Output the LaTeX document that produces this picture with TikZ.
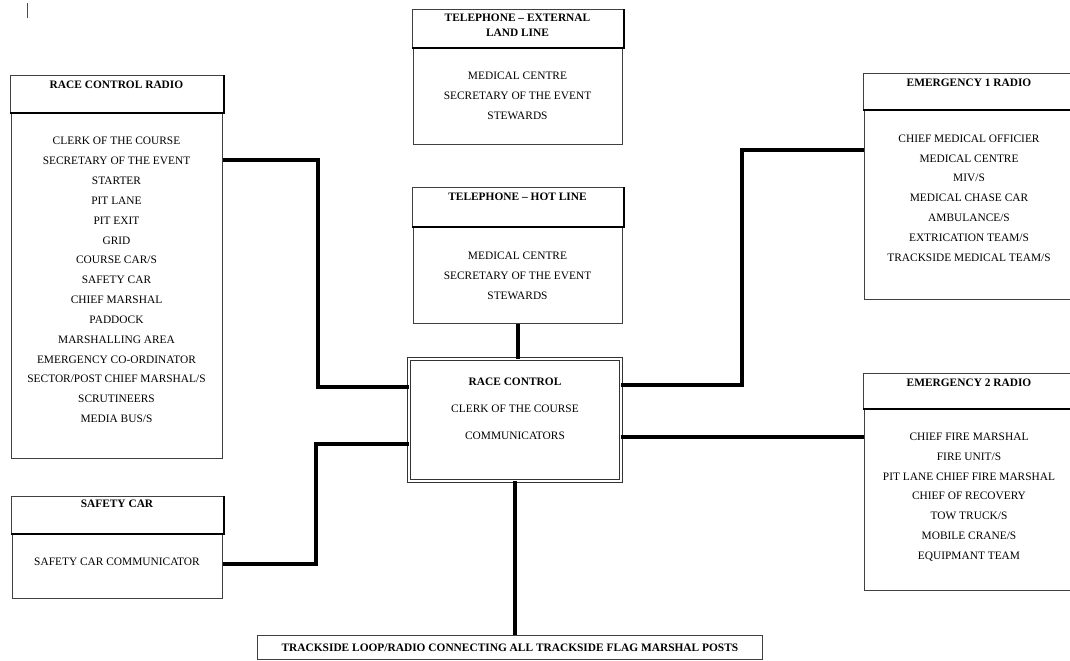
\documentclass[tikz,border=0pt]{standalone}
\usepackage{fontspec}
\setmainfont{Liberation Serif}
\usetikzlibrary{positioning,calc}

\begin{document}
\begin{tikzpicture}[x=0.025cm,y=-0.025cm,
  every node/.style={font=\fontsize{8.1}{14.1}\selectfont, align=center, inner sep=0pt},
  hdr/.style={draw=black!75, line width=0.5pt, anchor=north west},
  bodybox/.style={draw=black!75, line width=0.5pt, anchor=north west},
  ttl/.style={font=\fontsize{8.1}{10.7}\selectfont\bfseries},
  ctrl/.style={draw=black!80, line width=0.6pt, double=white, double distance=1.6pt},
  link/.style={line width=2.6pt},
  shade/.style={line width=1.4pt, black}]
  \useasboundingbox (0,0) rectangle (1070,661);
  \draw[black!70, line width=0.6pt] (27,3) -- (27,18);

  % race control radio
  \node[hdr, minimum width=5.325cm, minimum height=0.925cm] (rcrH) at (10,75) {};
  \node[bodybox, minimum width=5.275cm, minimum height=8.65cm] (rcrB) at (11,112) {};
  \node[ttl] (rcrT) at (116.5,85) {RACE CONTROL RADIO};
  \node (rcrL) at (116.5,280) {CLERK OF THE COURSE\\SECRETARY OF THE EVENT\\STARTER\\PIT LANE\\PIT EXIT\\GRID\\COURSE CAR/S\\SAFETY CAR\\CHIEF MARSHAL\\PADDOCK\\MARSHALLING AREA\\EMERGENCY CO-ORDINATOR\\SECTOR/POST CHIEF MARSHAL/S\\SCRUTINEERS\\MEDIA BUS/S};

  % safety car
  \node[hdr, minimum width=5.3cm, minimum height=0.925cm] (scH) at (11,496) {};
  \node[bodybox, minimum width=5.25cm, minimum height=1.625cm] (scB) at (12,533) {};
  \node[ttl] (scT) at (117,504) {SAFETY CAR};
  \node (scL) at (117,562) {SAFETY CAR COMMUNICATOR};

  % telephones
  \node[hdr, minimum width=5.275cm, minimum height=0.95cm] (telxH) at (412,9) {};
  \node[bodybox, minimum width=5.225cm, minimum height=2.425cm] (telxB) at (413,47) {};
  \node[ttl] (telxT) at (517.5,25) {TELEPHONE – EXTERNAL\\LAND LINE};
  \node (telxL) at (517.5,96) {MEDICAL CENTRE\\SECRETARY OF THE EVENT\\STEWARDS};

  \node[hdr, minimum width=5.275cm, minimum height=0.975cm] (hlH) at (412,187) {};
  \node[bodybox, minimum width=5.225cm, minimum height=2.425cm] (hlB) at (413,226) {};
  \node[ttl] (hlT) at (517.5,197) {TELEPHONE – HOT LINE};
  \node (hlL) at (517.5,276) {MEDICAL CENTRE\\SECRETARY OF THE EVENT\\STEWARDS};

  % race control
  \node[ctrl, minimum width=5.29cm, minimum height=3.04cm] (rc) at (515,420) {};
  \node (rcL) at (515,409) {\textbf{RACE CONTROL}\\[5pt]CLERK OF THE COURSE\\[5pt]COMMUNICATORS};

  % emergency radios
  \node[hdr, minimum width=5.3cm, minimum height=0.9cm] (e1H) at (863,73) {};
  \node[bodybox, minimum width=5.25cm, minimum height=4.75cm] (e1B) at (864,109) {};
  \node[ttl] (e1T) at (969,83) {EMERGENCY 1 RADIO};
  \node (e1L) at (969,198) {CHIEF MEDICAL OFFICIER\\MEDICAL CENTRE\\MIV/S\\MEDICAL CHASE CAR\\AMBULANCE/S\\EXTRICATION TEAM/S\\TRACKSIDE MEDICAL TEAM/S};

  \node[hdr, minimum width=5.3cm, minimum height=0.875cm] (e2H) at (863,373) {};
  \node[bodybox, minimum width=5.25cm, minimum height=4.55cm] (e2B) at (864,408) {};
  \node[ttl] (e2T) at (969,383) {EMERGENCY 2 RADIO};
  \node (e2L) at (969,497) {CHIEF FIRE MARSHAL\\FIRE UNIT/S\\PIT LANE CHIEF FIRE MARSHAL\\CHIEF OF RECOVERY\\TOW TRUCK/S\\MOBILE CRANE/S\\EQUIPMANT TEAM};

  % trackside
  \node[bodybox, minimum width=12.625cm, minimum height=0.6cm, font=\fontsize{8.1}{10}\selectfont\bfseries] (track) at (257,635) {TRACKSIDE LOOP/RADIO CONNECTING ALL TRACKSIDE FLAG MARSHAL POSTS};

  \foreach \n in {rcrH,scH,telxH,hlH,e1H,e2H}
    \draw[shade] (\n.south west) -- (\n.south east) -- (\n.north east);

  % connectors
  \coordinate (j1) at (318,160);
  \coordinate (j2) at (318,387);
  \coordinate (j3) at (316,564);
  \coordinate (j4) at (316,444);
  \coordinate (j5) at (742,150);
  \coordinate (j6) at (742,385);
  \coordinate (j7) at (742,437);
  \draw[link] (rcrB.east |- j1) -- (j1) -- (j2) -- (rc.west |- j2);
  \draw[link] (scB.east |- j3) -- (j3) -- (j4) -- (rc.west |- j4);
  \draw[link] (e1B.west |- j5) -- (j5) -- (j6) -- (rc.east |- j6);
  \draw[link] (rc.east |- j7) -- (e2B.west |- j7);
  \draw[link] (hlB.south) -- (hlB.south |- rc.north);
  \draw[link] (rc.south) -- (rc.south |- track.north);
\end{tikzpicture}
\end{document}
